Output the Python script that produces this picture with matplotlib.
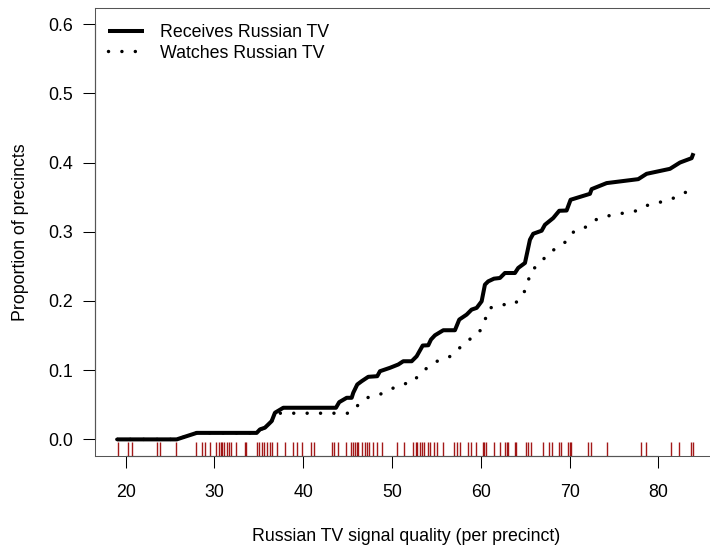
import matplotlib.pyplot as plt
import matplotlib.transforms as mtransforms

plt.rcParams['font.family'] = ['Liberation Sans', 'DejaVu Sans']
plt.rcParams['font.size'] = 12.8
plt.rcParams['savefig.bbox'] = 'standard'

# calidad de senal de cada recinto (rug)
senal = [19.1, 20.3, 20.7, 23.5, 23.9, 25.7, 27.9, 28.6, 28.9, 29.5, 30.2, 30.5,
         30.7, 30.9, 31.1, 31.4, 31.6, 31.9, 32.4, 33.4, 33.5, 34.8, 35.0, 35.3,
         35.6, 35.9, 36.2, 36.5, 37.0, 37.9, 38.8, 39.3, 39.8, 40.9, 41.2, 43.2,
         43.5, 43.9, 44.8, 45.4, 45.6, 45.8, 46.0, 46.2, 46.6, 46.9, 47.2, 47.4,
         47.8, 48.3, 48.9, 50.5, 51.3, 52.4, 52.7, 52.8, 53.2, 53.4, 53.6, 54.1,
         54.3, 54.7, 55.1, 55.7, 57.0, 57.3, 57.6, 58.6, 58.9, 59.5, 60.2, 60.3,
         60.6, 61.5, 62.2, 62.7, 62.9, 63.1, 63.8, 64.0, 65.1, 65.3, 65.6, 67.0,
         67.7, 68.0, 68.8, 69.0, 69.8, 70.0, 70.1, 72.1, 72.4, 74.2, 78.0, 78.6,
         81.4, 82.3, 83.7, 83.9]

# proporcion de recintos que reciben TV rusa
recibe_x = [19.0, 25.74, 28.0, 34.75, 35.12, 35.68, 36.06, 36.44, 36.81, 37.75,
            43.68, 44.05, 44.89, 45.45, 45.63, 46.08, 46.58, 47.32, 48.33, 48.64,
            49.76, 50.70, 51.26, 52.21, 52.77, 53.45, 54.08, 54.38, 54.83, 55.77,
            57.08, 57.57, 58.40, 58.96, 59.53, 60.09, 60.46, 60.83, 61.48, 62.15,
            62.71, 63.84, 64.21, 64.97, 65.53, 65.90, 66.85, 67.22, 68.15, 68.83,
            69.66, 70.11, 72.29, 72.48, 74.17, 77.73, 78.67, 81.30, 82.43, 83.74,
            83.95]
recibe_y = [0.0, 0.0, 0.0094, 0.0094, 0.0144, 0.0169, 0.0216, 0.0264, 0.0385, 0.0457,
            0.0457, 0.0538, 0.0601, 0.0601, 0.0674, 0.0793, 0.0841, 0.0904, 0.0913, 0.0985,
            0.1034, 0.1082, 0.1129, 0.1129, 0.1201, 0.1356, 0.1360, 0.1442, 0.1504, 0.1577,
            0.1577, 0.1731, 0.1803, 0.1875, 0.1900, 0.1995, 0.2236, 0.2283, 0.2322, 0.2332,
            0.2404, 0.2404, 0.2477, 0.2549, 0.2885, 0.2971, 0.3015, 0.3101, 0.3198, 0.3303,
            0.3307, 0.3462, 0.3548, 0.3616, 0.3703, 0.3760, 0.3837, 0.3909, 0.4000, 0.4063,
            0.4135]

# proporcion de recintos que miran TV rusa
mira_x = [19.0, 25.74, 28.0, 34.75, 35.12, 35.68, 36.06, 36.44, 36.81, 39.07,
          43.68, 45.26, 46.13, 47.14, 48.38, 49.57, 50.97, 52.39, 53.22, 54.27,
          55.25, 56.60, 57.53, 58.66, 59.79, 60.46, 60.83, 62.23, 63.73, 64.71,
          65.27, 65.61, 66.73, 67.48, 68.74, 69.77, 70.56, 72.06, 73.07, 74.54,
          76.08, 77.55, 78.90, 80.39, 81.82, 83.18, 83.9]
mira_y = [0.0, 0.0, 0.0094, 0.0094, 0.0144, 0.0169, 0.0216, 0.0264, 0.0378, 0.0378,
          0.0378, 0.0378, 0.0490, 0.0601, 0.0635, 0.0707, 0.0793, 0.0826, 0.0971, 0.1057,
          0.1144, 0.1201, 0.1313, 0.1438, 0.1539, 0.1716, 0.1890, 0.1947, 0.1947, 0.2077,
          0.2246, 0.2438, 0.2539, 0.2683, 0.2779, 0.2875, 0.3019, 0.3077, 0.3183, 0.3235,
          0.3270, 0.3303, 0.3390, 0.3433, 0.3491, 0.3577, 0.3620]

xticks = [20, 30, 40, 50, 60, 70, 80]
yticks = [0.0, 0.1, 0.2, 0.3, 0.4, 0.5, 0.6]
ytick_labels = ['0.0', '0.1', '0.2', '0.3', '0.4', '0.5', '0.6']

fig = plt.figure(figsize=(7.1, 5.46), dpi=100)
# el marco derecho queda fuera de la figura
ax = fig.add_axes([95 / 710, 90 / 546, 622 / 710, 448.5 / 546])

trans = mtransforms.blended_transform_factory(ax.transData, ax.transAxes)
ax.vlines(senal, 0, 0.031, transform=trans, color='#990000', lw=1.0, alpha=0.9)

ax.plot(recibe_x, recibe_y, color='black', lw=2.9, solid_joinstyle='round',
        solid_capstyle='butt', label='Receives Russian TV')
ax.plot(mira_x, mira_y, color='black', lw=2.5, linestyle=(0, (0.01, 3.85)),
        dash_capstyle='round', label='Watches Russian TV')

ax.set_xlim(16.54, 86.6)
ax.set_ylim(-0.024, 0.624)
ax.set_xticks(xticks)
ax.set_yticks(yticks, ytick_labels)
ax.tick_params(axis='both', length=8.3, width=0.75, direction='out')
ax.tick_params(axis='x', pad=12)
ax.tick_params(axis='y', pad=7.5)

for s in ax.spines.values():
    s.set_linewidth(0.75)
    s.set_color('#555555')
ax.spines['right'].set_visible(False)

# lineas de los ejes, solo entre el primer y el ultimo tick
tx = mtransforms.blended_transform_factory(ax.transData, ax.transAxes)
ty = mtransforms.blended_transform_factory(ax.transAxes, ax.transData)
ax.plot([xticks[0], xticks[-1]], [0, 0], transform=tx, color='black', lw=0.8, clip_on=False)
ax.plot([0, 0], [yticks[0], yticks[-1]], transform=ty, color='black', lw=0.8, clip_on=False)

ax.set_xlabel('Russian TV signal quality (per precinct)', labelpad=19)
ax.set_ylabel('Proportion of precincts', labelpad=13.8)

ax.legend(loc='upper left', bbox_to_anchor=(0.0209, 0.963), frameon=False,
          borderpad=0, borderaxespad=0, handlelength=2.0, handletextpad=0.9,
          labelspacing=0.2)

fig.savefig('out.png', dpi=100)
